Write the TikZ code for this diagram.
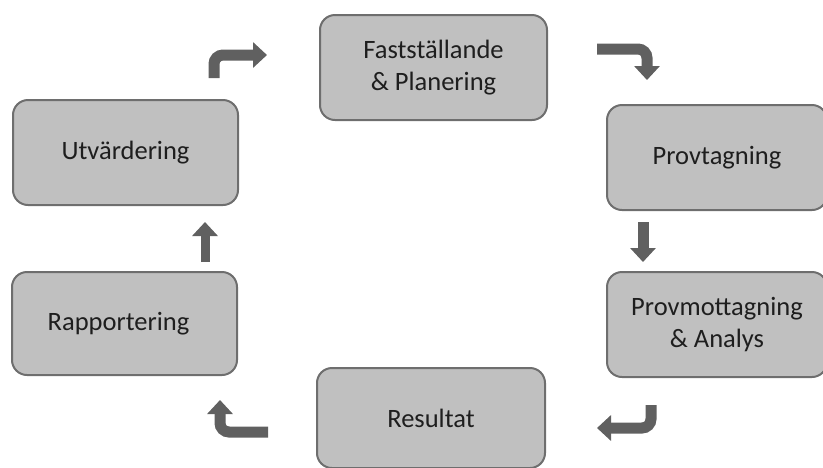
\documentclass[tikz,border=0pt]{standalone}
\usepackage{fontspec}
\setmainfont{Carlito}
\usetikzlibrary{arrows.meta}
\definecolor{boxfill}{HTML}{C0C0C0}
\definecolor{boxline}{HTML}{6E6E6E}
\definecolor{arrowgray}{HTML}{606060}
\definecolor{txt}{HTML}{1E1E1E}
\tikzset{
  stagebox/.style={draw=boxline, line width=2pt, fill=boxfill, rounded corners=15pt,
    text=txt, align=center, font=\fontsize{26.5}{32}\selectfont, inner sep=0pt},
  flowarrow/.style={draw=arrowgray, line width=11pt, rounded corners=9pt,
    -{Triangle[length=14pt,width=25pt]}}
}
\begin{document}
\begin{tikzpicture}[x=1pt,y=-1pt]
\useasboundingbox (0,0) rectangle (823,467);
\clip (0,0) rectangle (823,467);
\node[stagebox, minimum width=227pt, minimum height=105pt] (plan) at (433.5,67.5) {Fastställande\\\& Planering};
\node[stagebox, minimum width=220pt, minimum height=105pt] (prov) at (717,157.5) {Provtagning};
\node[stagebox, minimum width=220pt, minimum height=105pt] (analys) at (717,324.5) {Provmottagning\\\& Analys};
\node[stagebox, minimum width=228pt, minimum height=100pt] (res) at (431,418) {Resultat};
\node[stagebox, minimum width=225pt, minimum height=103pt] (rapp) at (124.5,323.5) {Rapportering\hspace*{12pt}};
\node[stagebox, minimum width=225pt, minimum height=105pt] (utv) at (125.5,152.5) {Utvärdering};
% arrows
\coordinate (a1s) at (214,78); \coordinate (a1b) at (214,55); \coordinate (a1e) at (267,55);
\coordinate (a2s) at (597,49); \coordinate (a2b) at (647,49); \coordinate (a2e) at (647,80);
\coordinate (a3s) at (643,222); \coordinate (a3e) at (643,262);
\coordinate (a4s) at (651,405); \coordinate (a4b) at (651,428); \coordinate (a4e) at (597,428);
\coordinate (a5s) at (268,432); \coordinate (a5b) at (220,432); \coordinate (a5e) at (220,400);
\coordinate (a6s) at (205,262); \coordinate (a6e) at (205,222);
\draw[flowarrow] (a1s) -- (a1b) -- (a1e);
\draw[flowarrow] (a2s) -- (a2b) -- (a2e);
\draw[flowarrow] (a3s) -- (a3e);
\draw[flowarrow] (a4s) -- (a4b) -- (a4e);
\draw[flowarrow] (a5s) -- (a5b) -- (a5e);
\draw[flowarrow, line width=9pt] (a6s) -- (a6e);
\end{tikzpicture}
\end{document}
